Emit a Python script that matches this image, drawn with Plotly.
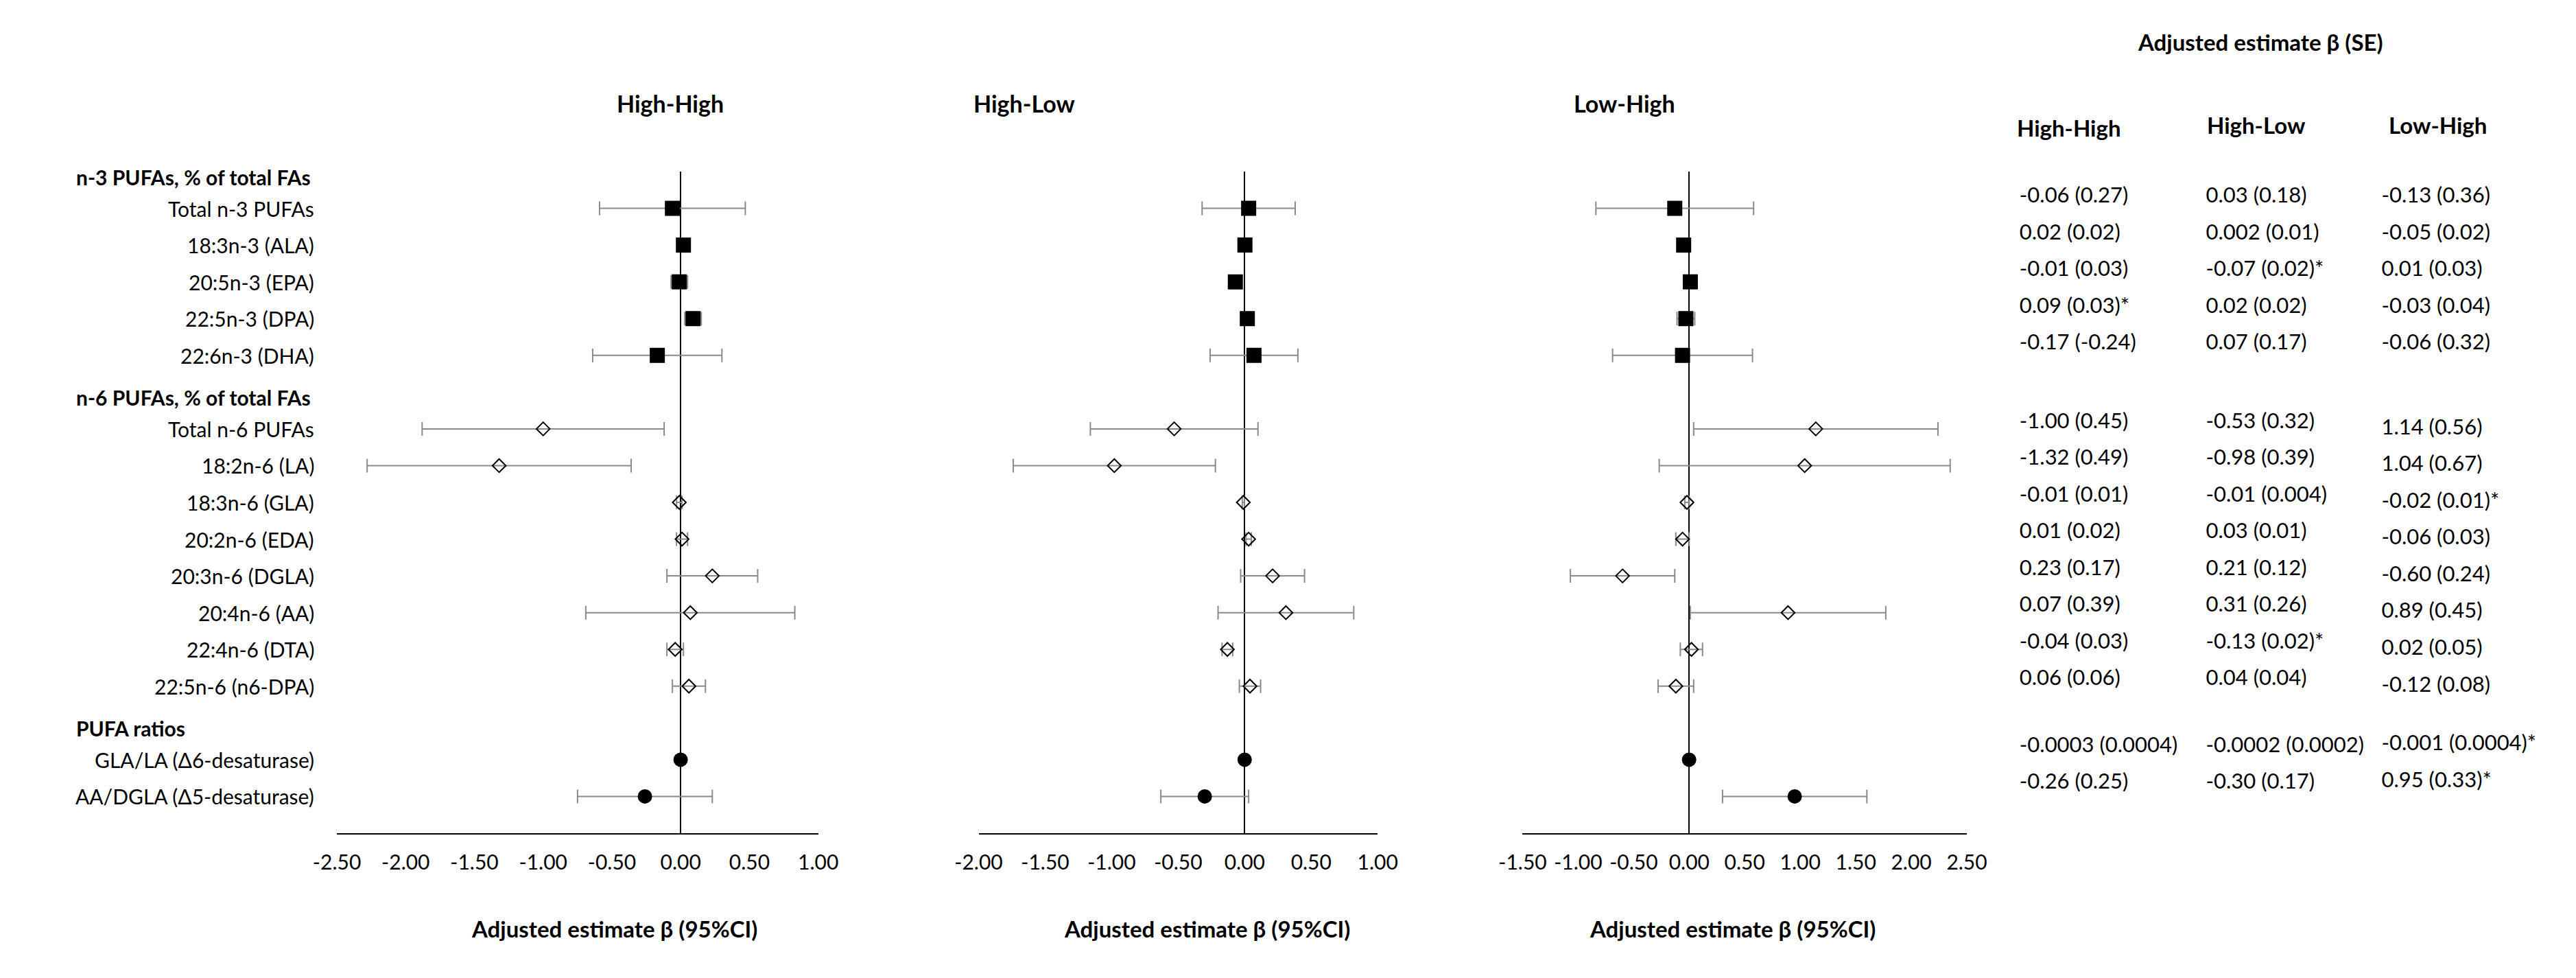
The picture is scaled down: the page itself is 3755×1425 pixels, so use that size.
import plotly.graph_objects as go

# Row labels, grouped the way the forest plot stacks them
group_names = ["n-3 PUFAs, % of total FAs", "n-6 PUFAs, % of total FAs", "PUFA ratios"]
group_sizes = [5, 8, 2]
item_labels = [
    "Total n-3 PUFAs", "18:3n-3 (ALA)", "20:5n-3 (EPA)", "22:5n-3 (DPA)", "22:6n-3 (DHA)",
    "Total n-6 PUFAs", "18:2n-6 (LA)", "18:3n-6 (GLA)", "20:2n-6 (EDA)", "20:3n-6 (DGLA)",
    "20:4n-6 (AA)", "22:4n-6 (DTA)", "22:5n-6 (n6-DPA)",
    "GLA/LA (\u03946-desaturase)", "AA/DGLA (\u03945-desaturase)",
]

# High-High: estimate and 95% CI
hh_est = [-0.06, 0.02, -0.01, 0.09, -0.17, -1.00, -1.32, -0.01, 0.01, 0.23, 0.07, -0.04, 0.06, -0.0003, -0.26]
hh_lo = [-0.59, -0.02, -0.07, 0.03, -0.64, -1.88, -2.28, -0.03, -0.03, -0.10, -0.69, -0.10, -0.06, -0.001, -0.75]
hh_hi = [0.47, 0.06, 0.05, 0.15, 0.30, -0.12, -0.36, 0.01, 0.05, 0.56, 0.83, 0.02, 0.18, 0.0005, 0.23]

# High-Low
hl_est = [0.03, 0.002, -0.07, 0.02, 0.07, -0.53, -0.98, -0.01, 0.03, 0.21, 0.31, -0.13, 0.04, -0.0002, -0.30]
hl_lo = [-0.32, -0.018, -0.11, -0.02, -0.26, -1.16, -1.74, -0.018, 0.01, -0.03, -0.20, -0.17, -0.04, -0.0006, -0.63]
hl_hi = [0.38, 0.022, -0.03, 0.06, 0.40, 0.10, -0.22, -0.002, 0.05, 0.45, 0.82, -0.09, 0.12, 0.0002, 0.03]

# Low-High
lh_est = [-0.13, -0.05, 0.01, -0.03, -0.06, 1.14, 1.04, -0.02, -0.06, -0.60, 0.89, 0.02, -0.12, -0.001, 0.95]
lh_lo = [-0.84, -0.09, -0.05, -0.11, -0.69, 0.04, -0.27, -0.04, -0.12, -1.07, 0.01, -0.08, -0.28, -0.0018, 0.30]
lh_hi = [0.58, -0.01, 0.07, 0.05, 0.57, 2.24, 2.35, 0.00, 0.00, -0.13, 1.77, 0.12, 0.04, -0.0002, 1.60]

# Tick values for each panel
hh_ticks = [-2.5, -2.0, -1.5, -1.0, -0.5, 0.0, 0.5, 1.0]
hl_ticks = [-2.0, -1.5, -1.0, -0.5, 0.0, 0.5, 1.0]
lh_ticks = [-1.5, -1.0, -0.5, 0.0, 0.5, 1.0, 1.5, 2.0, 2.5]

# Table on the right: adjusted estimate (SE)
table_title = "Adjusted estimate \u03b2 (SE)"
table_cols = ["High-High", "High-Low", "Low-High"]
hh_tab = ["-0.06 (0.27)", "0.02 (0.02)", "-0.01 (0.03)", "0.09 (0.03)*", "-0.17 (-0.24)",
          "-1.00 (0.45)", "-1.32 (0.49)", "-0.01 (0.01)", "0.01 (0.02)", "0.23 (0.17)",
          "0.07 (0.39)", "-0.04 (0.03)", "0.06 (0.06)", "-0.0003 (0.0004)", "-0.26 (0.25)"]
hl_tab = ["0.03 (0.18)", "0.002 (0.01)", "-0.07 (0.02)*", "0.02 (0.02)", "0.07 (0.17)",
          "-0.53 (0.32)", "-0.98 (0.39)", "-0.01 (0.004)", "0.03 (0.01)", "0.21 (0.12)",
          "0.31 (0.26)", "-0.13 (0.02)*", "0.04 (0.04)", "-0.0002 (0.0002)", "-0.30 (0.17)"]
lh_tab = ["-0.13 (0.36)", "-0.05 (0.02)", "0.01 (0.03)", "-0.03 (0.04)", "-0.06 (0.32)",
          "1.14 (0.56)", "1.04 (0.67)", "-0.02 (0.01)*", "-0.06 (0.03)", "-0.60 (0.24)",
          "0.89 (0.45)", "0.02 (0.05)", "-0.12 (0.08)", "-0.001 (0.0004)*", "0.95 (0.33)*"]

# page is 3755x1425; the html body keeps its default 8px margin
PAGE_W, PAGE_H, PAD = 3755, 1425, 8
W, H = PAGE_W - 2 * PAD, PAGE_H - 2 * PAD
FONT = "Lato"


def fx(p):
    return min(1.0, max(0.0, (p - PAD) / W))


def fy(p):
    return 1 - (p - PAD) / H


# slot positions: every group header takes a row, then its items
header_slots, item_slots, item_group = [], [], []
slot = 0
for gi, n in enumerate(group_sizes):
    header_slots.append(slot)
    slot += 1
    for _ in range(n):
        item_slots.append(slot)
        item_group.append(gi)
        slot += 1
n_slots = slot

marker_styles = [
    dict(symbol="square", size=22, color="black"),
    dict(symbol="diamond-open", size=15, color="black", line=dict(color="black", width=2)),
    dict(symbol="circle", size=21, color="black"),
]

panels = [
    dict(name="High-High", est=hh_est, lo=hh_lo, hi=hh_hi, ticks=hh_ticks,
         dom=(464, 1178), title_x=959, axis_title_x=876),
    dict(name="High-Low", est=hl_est, lo=hl_lo, hi=hl_hi, ticks=hl_ticks,
         dom=(1416, 2008), title_x=1484, axis_title_x=1755),
    dict(name="Low-High", est=lh_est, lo=lh_lo, hi=lh_hi, ticks=lh_ticks,
         dom=(2223, 2882), title_x=2374, axis_title_x=2534),
]

fig = go.Figure()
annotations = []

for pi, p in enumerate(panels):
    ax = "x" if pi == 0 else f"x{pi + 1}"
    for gi in range(len(group_sizes)):
        idx = [i for i, g in enumerate(item_group) if g == gi]
        fig.add_trace(go.Scatter(
            x=[p["est"][i] for i in idx],
            y=[item_slots[i] for i in idx],
            mode="markers",
            marker=marker_styles[gi],
            error_x=dict(type="data", symmetric=False,
                         array=[p["hi"][i] - p["est"][i] for i in idx],
                         arrayminus=[p["est"][i] - p["lo"][i] for i in idx],
                         color="#8a8a8a", thickness=2, width=10),
            xaxis=ax, yaxis="y", showlegend=False, hoverinfo="skip",
        ))
    axis_cfg = dict(
        domain=[fx(p["dom"][0]), fx(p["dom"][1])],
        range=[p["ticks"][0], p["ticks"][-1]],
        anchor="y",
        tickvals=p["ticks"],
        ticktext=[f"{v:.2f}" for v in p["ticks"]],
        tickfont=dict(family=FONT, size=30, color="black"),
        ticks="outside", ticklen=15, tickcolor="rgba(0,0,0,0)",
        showline=True, linecolor="black", linewidth=2,
        showgrid=False,
        zeroline=True, zerolinecolor="black", zerolinewidth=2,
    )
    fig.update_layout({("xaxis" if pi == 0 else f"xaxis{pi + 1}"): axis_cfg})
    annotations.append(dict(text=f"<b>{p['name']}</b>", x=fx(p["title_x"]), y=fy(150),
                            xref="paper", yref="paper", showarrow=False,
                            xanchor="center", yanchor="middle",
                            font=dict(family=FONT, size=34, color="black")))
    annotations.append(dict(text="<b>Adjusted estimate \u03b2 (95%CI)</b>", x=fx(p["axis_title_x"]),
                            y=fy(1353), xref="paper", yref="paper", showarrow=False,
                            xanchor="center", yanchor="middle",
                            font=dict(family=FONT, size=33, color="black")))

# Row labels on the left
for name, s in zip(group_names, header_slots):
    annotations.append(dict(text=f"<b>{name}</b>", x=fx(75), y=s + 0.15, xref="paper", yref="y",
                            showarrow=False, xanchor="left", yanchor="middle",
                            font=dict(family=FONT, size=30, color="black")))
for name, s in zip(item_labels, item_slots):
    annotations.append(dict(text=name, x=fx(432), y=s, xref="paper", yref="y",
                            showarrow=False, xanchor="right", yanchor="middle",
                            font=dict(family=FONT, size=30, color="black")))

# Table of estimates (SE)
col_x = [0.0, 1.03, 2.0]
row_shift = [[-0.3, -0.17, -0.35], [-0.3, -0.17, -0.35], [-0.3, 0.0, -0.4]]
for ci, texts in enumerate([hh_tab, hl_tab, lh_tab]):
    fig.add_trace(go.Scatter(
        x=[col_x[ci]] * len(texts),
        y=[item_slots[i] + row_shift[ci][item_group[i]] for i in range(len(texts))],
        mode="text", text=texts, textposition="middle right",
        textfont=dict(family=FONT, size=31, color="black"),
        xaxis="x4", yaxis="y", showlegend=False, hoverinfo="skip", cliponaxis=False,
    ))
fig.update_layout(xaxis4=dict(domain=[fx(2929), 1.0], range=[-0.116, 2.931], anchor="y",
                              visible=False, showgrid=False, zeroline=False))

annotations.append(dict(text=f"<b>{table_title}</b>", x=fx(3318), y=fy(61), xref="paper", yref="paper",
                        showarrow=False, xanchor="center", yanchor="middle",
                        font=dict(family=FONT, size=33, color="black")))
for name, (px_l, py) in zip(table_cols, [(2954, 186), (3236, 182), (3506, 182)]):
    annotations.append(dict(text=f"<b>{name}</b>", x=fx(px_l), y=fy(py), xref="paper", yref="paper",
                            showarrow=False, xanchor="left", yanchor="middle",
                            font=dict(family=FONT, size=33, color="black")))

fig.update_layout(
    width=W, height=H, autosize=False,
    margin=dict(l=0, r=0, t=0, b=0),
    paper_bgcolor="white", plot_bgcolor="white",
    font=dict(family=FONT, color="black"),
    yaxis=dict(domain=[fy(1214), fy(250)], range=[n_slots, 0], anchor="x",
               visible=False, showgrid=False, zeroline=False),
    annotations=annotations,
)

fig.write_html("out.html")
